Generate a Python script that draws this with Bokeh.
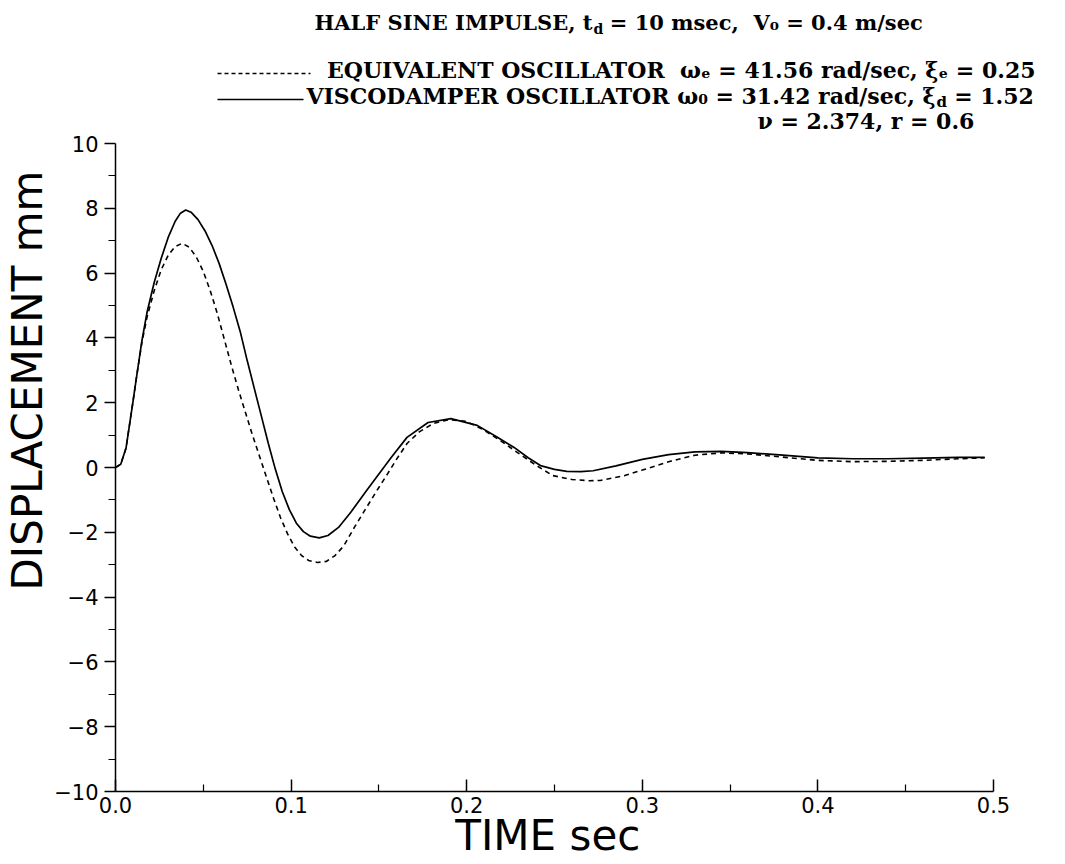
from bokeh.plotting import figure
from bokeh.layouts import column
from bokeh.models import Range1d, FixedTicker, Title
from bokeh.core.properties import value
from bokeh.embed import file_html
from bokeh.resources import INLINE

# ---------------- data ----------------
t_visco = [0.000, 0.003, 0.006, 0.010, 0.012, 0.015, 0.018, 0.022, 0.026, 0.030,
           0.034, 0.037, 0.040, 0.043, 0.047, 0.051, 0.055, 0.059, 0.063, 0.067,
           0.071, 0.075, 0.079, 0.083, 0.087, 0.091, 0.095, 0.099, 0.103, 0.107,
           0.111, 0.116, 0.121, 0.127, 0.134, 0.143, 0.150, 0.157, 0.166, 0.178,
           0.191, 0.206, 0.217, 0.227, 0.235, 0.242, 0.250, 0.257, 0.265, 0.272,
           0.285, 0.300, 0.315, 0.330, 0.345, 0.360, 0.380, 0.400, 0.420, 0.440,
           0.460, 0.480, 0.495]
d_visco = [0.00, 0.10, 0.60, 2.05, 2.80, 3.90, 4.80, 5.70, 6.45, 7.10,
           7.60, 7.85, 7.95, 7.88, 7.65, 7.30, 6.85, 6.30, 5.65, 4.95,
           4.20, 3.30, 2.45, 1.60, 0.75, -0.05, -0.75, -1.30, -1.72, -1.98,
           -2.12, -2.17, -2.10, -1.85, -1.38, -0.71, -0.20, 0.31, 0.93, 1.39,
           1.51, 1.30, 0.95, 0.62, 0.30, 0.06, -0.06, -0.12, -0.13, -0.10,
           0.05, 0.25, 0.40, 0.48, 0.50, 0.46, 0.38, 0.30, 0.27, 0.27,
           0.29, 0.31, 0.31]

t_equiv = [0.000, 0.003, 0.006, 0.010, 0.012, 0.015, 0.018, 0.022, 0.026, 0.030,
           0.034, 0.038, 0.042, 0.046, 0.050, 0.054, 0.058, 0.062, 0.066, 0.070,
           0.074, 0.078, 0.082, 0.086, 0.090, 0.094, 0.098, 0.102, 0.106, 0.110,
           0.115, 0.120, 0.125, 0.130, 0.136, 0.143, 0.149, 0.155, 0.160, 0.166,
           0.173, 0.181, 0.190, 0.200, 0.210, 0.220, 0.230, 0.240, 0.249, 0.260,
           0.270, 0.276, 0.290, 0.300, 0.315, 0.330, 0.345, 0.360, 0.380, 0.400,
           0.420, 0.440, 0.460, 0.480, 0.495]
d_equiv = [0.00, 0.10, 0.60, 2.05, 2.80, 3.85, 4.65, 5.45, 6.10, 6.55,
           6.82, 6.92, 6.80, 6.50, 6.05, 5.45, 4.75, 3.95, 3.15, 2.40,
           1.70, 1.00, 0.35, -0.30, -0.95, -1.55, -2.05, -2.45, -2.72, -2.87,
           -2.93, -2.90, -2.72, -2.42, -1.85, -1.23, -0.70, -0.19, 0.25, 0.74,
           1.10, 1.36, 1.48, 1.42, 1.15, 0.80, 0.42, 0.05, -0.25, -0.37,
           -0.41, -0.40, -0.25, -0.08, 0.18, 0.38, 0.45, 0.42, 0.32, 0.22,
           0.18, 0.19, 0.22, 0.27, 0.30]

x_ticks = [0.0, 0.1, 0.2, 0.3, 0.4, 0.5]
x_minor = [0.05, 0.15, 0.25, 0.35, 0.45]
x_tick_labels = ["0.0", "0.1", "0.2", "0.3", "0.4", "0.5"]
y_ticks = [-10, -8, -6, -4, -2, 0, 2, 4, 6, 8, 10]
y_minor = [-9, -7, -5, -3, -1, 1, 3, 5, 7, 9]
y_tick_labels = ["\u221210", "\u22128", "\u22126", "\u22124", "\u22122",
                 "0", "2", "4", "6", "8", "10"]

NB = "\u00a0"
title_a = "HALF SINE IMPULSE, t"
title_sub = "d"
title_b = NB + "= 10 msec," + NB + NB + "V\u2080 = 0.4 m/sec"
leg1 = "EQUIVALENT OSCILLATOR" + NB + NB + "\u03c9\u2091 = 41.56 rad/sec, \u03be\u2091 = 0.25"
leg2_a = "VISCODAMPER OSCILLATOR \u03c9\u2080 = 31.42 rad/sec, \u03be"
leg2_sub = "d"
leg2_b = NB + "= 1.52"
leg3 = "\u03bd = 2.374, r = 0.6"
x_label = "TIME  sec"
y_label = "DISPLACEMENT  mm"

# ---------------- layout ----------------
W = 1057
TOP_H = 132
MAIN_H = 732
FL, FR, FT, FB = 115, 64, 11, 73

# ---------- header (title + legend) drawn in its own pixel-space figure ----------
top = figure(width=W, height=TOP_H, output_backend="svg", toolbar_location=None,
             x_range=Range1d(0, W), y_range=Range1d(TOP_H, 0),
             x_axis_type=None, y_axis_type=None, min_border=0)
top.outline_line_color = None
top.grid.visible = False
top.frame_align = False

SERIF = value("DejaVu Serif")
FS = "22px"
SUB_FS = "15px"


def txt(s, x, y, align="left", size=FS):
    top.text(x=[x], y=[y], text=[s], text_align=align, text_baseline="middle",
             text_font=SERIF, text_font_style="bold", text_font_size=size,
             text_color="black")


txt(title_a, 592, 22, align="right", size="21px")
txt(title_sub, 593, 28, size="14px")
txt(title_b, 602, 22, size="21px")

top.line(x=[217, 310], y=[73, 73], line_color="black", line_width=1.5, line_dash="4 3")
txt(leg1, 1035, 69, align="right")
top.line(x=[217, 303], y=[99, 99], line_color="black", line_width=1.6)
txt(leg2_a, 935, 95, align="right")
txt(leg2_sub, 936, 101, size=SUB_FS)
txt(leg2_b, 946, 95)
txt(leg3, 757, 120)

# ---------------- main plot ----------------
p = figure(width=W, height=MAIN_H, output_backend="svg", toolbar_location=None,
           x_range=Range1d(0, 0.5), y_range=Range1d(-10, 10),
           min_border_left=FL, min_border_right=FR,
           min_border_top=FT, min_border_bottom=FB)
p.outline_line_color = None
p.grid.visible = False
p.frame_align = False

xa = p.xaxis[0]
xa.ticker = FixedTicker(ticks=x_ticks, minor_ticks=x_minor)
xa.major_label_overrides = {t: s for t, s in zip(x_ticks, x_tick_labels)}
xa.major_tick_in = 12
xa.major_tick_out = 0
xa.minor_tick_in = 7
xa.minor_tick_out = 0
xa.axis_line_width = 1.5
xa.major_tick_line_width = 1.5
xa.minor_tick_line_width = 1.2
xa.major_label_text_font = "DejaVu Sans"
xa.major_label_text_font_size = "21px"
xa.major_label_text_color = "black"
xa.major_label_standoff = 5
xa.axis_label = x_label
xa.axis_label_text_font = "DejaVu Sans"
xa.axis_label_text_font_style = "normal"
xa.axis_label_text_font_size = "42px"
xa.axis_label_text_color = "black"
xa.axis_label_standoff = -5

ya = p.yaxis[0]
ya.ticker = FixedTicker(ticks=y_ticks, minor_ticks=y_minor)
ya.major_label_overrides = {t: s for t, s in zip(y_ticks, y_tick_labels)}
ya.major_tick_in = 0
ya.major_tick_out = 11
ya.minor_tick_in = 0
ya.minor_tick_out = 7
ya.axis_line_width = 1.5
ya.major_tick_line_width = 1.5
ya.minor_tick_line_width = 1.2
ya.major_label_text_font = "DejaVu Sans"
ya.major_label_text_font_size = "21px"
ya.major_label_text_color = "black"
ya.major_label_standoff = 6

p.add_layout(Title(text=y_label, align="left", offset=201, standoff=0,
                   text_font="DejaVu Sans", text_font_style="normal",
                   text_font_size="42px", text_color="black"), "left")

p.line(t_equiv, d_equiv, line_color="black", line_width=1.6, line_dash="5 4")
p.line(t_visco, d_visco, line_color="black", line_width=1.7)

layout = column(top, p, spacing=0)
open("out.html", "w").write(file_html(layout, INLINE))
